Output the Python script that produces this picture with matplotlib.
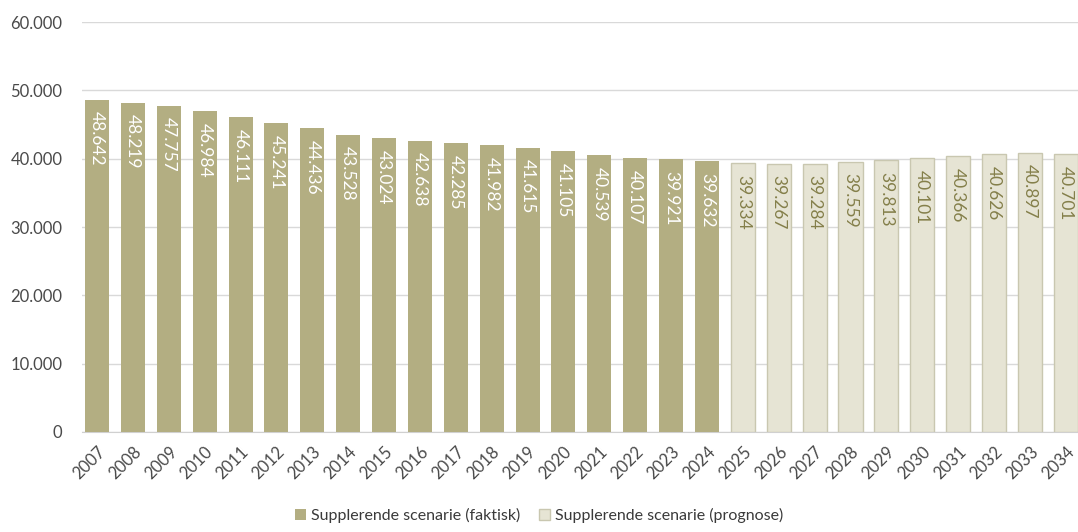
import matplotlib.pyplot as plt
import numpy as np

years = [str(y) for y in range(2007, 2035)]
faktisk = [48642, 48219, 47757, 46984, 46111, 45241, 44436, 43528, 43024, 42638,
           42285, 41982, 41615, 41105, 40539, 40107, 39921, 39632]
prognose = [39334, 39267, 39284, 39559, 39813, 40101, 40366, 40626, 40897, 40701]

def fmt(v):
    return '{:,}'.format(v).replace(',', '.')

plt.rcParams['font.family'] = ['Lato', 'DejaVu Sans']

fig = plt.figure(figsize=(10.78, 5.32), dpi=100)
ax = fig.add_axes([0.076, 0.188, 0.924, 0.7706])

x1 = np.arange(len(faktisk))
x2 = np.arange(len(faktisk), len(years))
width = 0.67

ax.bar(x1, faktisk, width=width, color='#b3ae82', label='Supplerende scenarie (faktisk)', zorder=3)
ax.bar(x2, prognose, width=width, color='#e6e4d4', edgecolor='#c9c7b0', linewidth=1,
       label='Supplerende scenarie (prognose)', zorder=3)

for i, v in zip(x1, faktisk):
    ax.annotate(fmt(v), (i, v), xytext=(0, -8.5), textcoords='offset points',
                rotation=-90, ha='center', va='top', color='white', fontsize=12.5, zorder=4)
for i, v in zip(x2, prognose):
    ax.annotate(fmt(v), (i, v), xytext=(0, -8.5), textcoords='offset points',
                rotation=-90, ha='center', va='top', color='#847f4a', fontsize=12.5, zorder=4)

ax.set_ylim(0, 60000)
ax.set_xlim(-0.42, len(years) - 1 + 0.34)
yt = np.arange(0, 60001, 10000)
ax.set_yticks(yt)
ax.set_yticklabels([fmt(int(t)) for t in yt])
ax.set_xticks(np.arange(len(years)))
ax.set_xticklabels(years, rotation=45, ha='right', rotation_mode='anchor')
ax.tick_params(axis='both', length=0, labelsize=12, colors='#4a4a4a')
ax.tick_params(axis='y', pad=14)
ax.tick_params(axis='x', pad=8)
ax.grid(axis='y', color='#d9d9d9', linewidth=1, zorder=0)
for s in ['top', 'right', 'left']:
    ax.spines[s].set_visible(False)
ax.spines['bottom'].set_color('#d0d0d0')

fig.legend(loc='lower center', bbox_to_anchor=(0.5, -0.01), ncol=2, frameon=False,
           fontsize=11.5, handlelength=0.7, handleheight=0.7, handletextpad=0.3,
           columnspacing=1.2, labelcolor='#3a3a3a')

plt.savefig('out.png', dpi=100)
